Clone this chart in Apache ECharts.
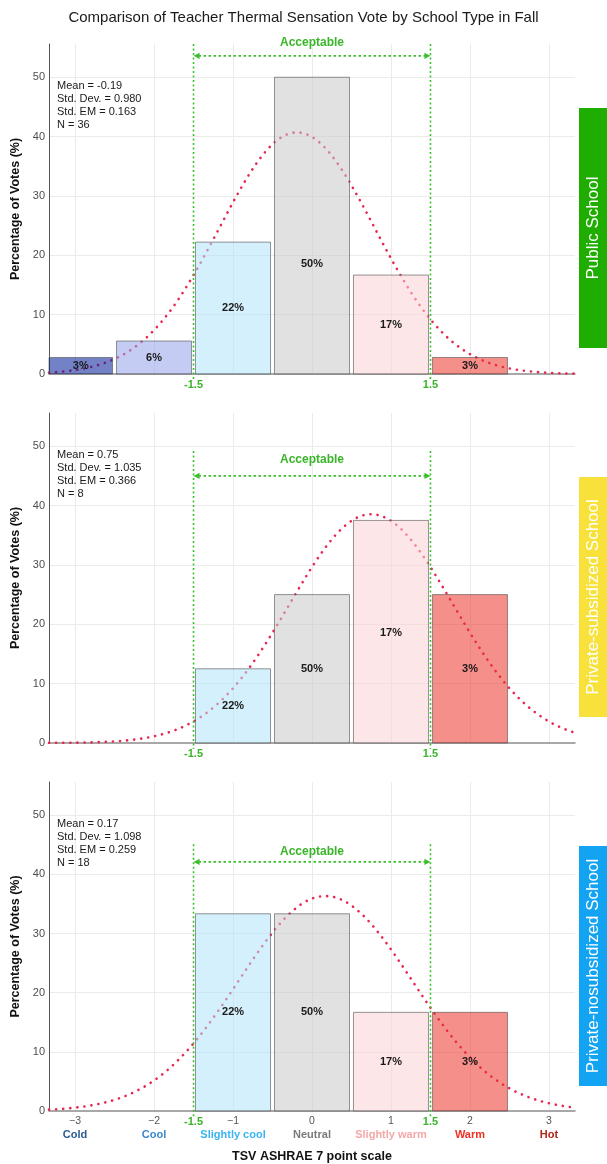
<!DOCTYPE html>
<html>
<head>
<meta charset="utf-8">
<title>Teacher Thermal Sensation Vote by School Type</title>
<script src="https://cdn.jsdelivr.net/npm/echarts@6/dist/echarts.min.js"></script>
<style>
  html, body { margin: 0; padding: 0; background: #ffffff; }
  #chart { width: 607px; height: 1164px; }
</style>
</head>
<body>
<div id="chart"></div>
<script>
// ---- Data -------------------------------------------------------------
// ASHRAE 7-point thermal sensation scale
const tsvPoints = [-3, -2, -1, 0, 1, 2, 3];
const tsvNames = ['Cold', 'Cool', 'Slightly cool', 'Neutral', 'Slightly warm', 'Warm', 'Hot'];
const schoolTypes = ['Public School', 'Private-subsidized School', 'Private-nosubsidized School'];

// Percentage of votes at each TSV point (-3 .. 3)
const publicPct       = [2.78, 5.56, 22.22, 50.0, 16.67, 2.78, 0];
const subsidizedPct   = [0, 0, 12.5, 25.0, 37.5, 25.0, 0];
const nosubsidizedPct = [0, 0, 33.33, 33.33, 16.67, 16.67, 0];

// Bar labels as printed on each panel
const publicLabels       = ['3%', '6%', '22%', '50%', '17%', '3%', ''];
const subsidizedLabels   = ['', '', '22%', '50%', '17%', '3%', ''];
const nosubsidizedLabels = ['', '', '22%', '50%', '17%', '3%', ''];

// Summary statistics per school type
const means   = [-0.19, 0.75, 0.17];
const stdDevs = [0.980, 1.035, 1.098];
const stdEMs  = [0.163, 0.366, 0.259];
const counts  = [36, 8, 18];

// Acceptable comfort band on the TSV scale
const acceptRange = [-1.5, 1.5];

// ---- Layout & style ---------------------------------------------------
const FONT = '"Liberation Sans", Arial, Helvetica, sans-serif';
const GREEN = '#3cbf2c';
const GREEN_TEXT = '#3ab52a';
const CURVE = '#e8264f';
const layout = {
  left: 49, right: 32, tops: [44, 413, 782], height: 330,
  xMin: -3.33, xMax: 3.33, yMax: 55.6
};
// heights (in % units) of the acceptable-band annotation per panel
const acceptLayout = [
  { top: 55.6, arrow: 53.6, label: 55.8 },
  { top: 49.2, arrow: 45.0, label: 47.7 },
  { top: 45.1, arrow: 42.1, label: 43.9 }
];
const stripColors = ['#20ad02', '#f8e13a', '#12a3f2'];
// translucent fills: the fitted curve shows faintly through the bars
const barFills = [
  'rgba(0,28,151,0.55)', 'rgba(150,162,235,0.55)', 'rgba(177,228,250,0.55)',
  'rgba(200,200,200,0.55)', 'rgba(251,210,213,0.55)', 'rgba(235,51,41,0.55)',
  'rgba(170,20,20,0.55)'
];
const nameColors = ['#2b5b95', '#3a88cc', '#3ab4f2', '#7a7a7a', '#f5a7a7', '#ee3124', '#b22418'];

const panels = [
  { pct: publicPct, labels: publicLabels },
  { pct: subsidizedPct, labels: subsidizedLabels },
  { pct: nosubsidizedPct, labels: nosubsidizedLabels }
];

// Fitted normal density (percent per one-point bin) from the panel's mean and SD
function normalCurve(mean, sd) {
  const pts = [];
  const steps = 333;
  for (let s = 0; s <= steps; s++) {
    const x = layout.xMin + (layout.xMax - layout.xMin) * s / steps;
    const z = (x - mean) / sd;
    pts.push([x, 100 * Math.exp(-0.5 * z * z) / (sd * Math.sqrt(2 * Math.PI))]);
  }
  return pts;
}

function fmtTick(v) {
  return v < 0 ? '\u2212' + (-v) : String(v);
}

const grids = [], xAxes = [], yAxes = [], series = [];

panels.forEach(function (p, i) {
  const isLast = i === panels.length - 1;
  grids.push({
    left: layout.left, right: layout.right, top: layout.tops[i], height: layout.height,
    containLabel: false
  });

  const rich = { n: { fontFamily: FONT, fontSize: 10.5, color: '#555555', lineHeight: 13 } };
  nameColors.forEach(function (c, k) {
    rich['c' + k] = { fontFamily: FONT, fontSize: 11, fontWeight: 'bold', color: c, lineHeight: 15 };
  });

  xAxes.push({
    type: 'value', gridIndex: i, min: layout.xMin, max: layout.xMax, splitNumber: 6,
    axisLine: { show: true, onZero: false, lineStyle: { color: '#8c8c8c', width: 1.5 } },
    axisTick: { show: false },
    splitLine: { show: true, showMinLine: false, showMaxLine: false, lineStyle: { color: '#ebebeb', width: 1 } },
    axisLabel: {
      show: isLast, margin: 3.5, showMinLabel: false, showMaxLabel: false,
      formatter: function (v) {
        if (Math.abs(v - Math.round(v)) > 1e-6) return '';
        const k = tsvPoints.indexOf(Math.round(v));
        if (k < 0) return '';
        return '{n|' + fmtTick(Math.round(v)) + '}\n{c' + k + '|' + tsvNames[k] + '}';
      },
      rich: rich
    },
    name: isLast ? 'TSV ASHRAE 7 point scale' : '',
    nameLocation: 'middle', nameGap: 39,
    nameTextStyle: { fontFamily: FONT, fontSize: 12.5, fontWeight: 'bold', color: '#111111' }
  });

  yAxes.push({
    type: 'value', gridIndex: i, min: 0, max: layout.yMax, interval: 10,
    axisLine: { show: true, onZero: false, lineStyle: { color: '#555555', width: 1 } },
    axisTick: { show: false },
    splitLine: { show: true, showMinLine: false, showMaxLine: false, lineStyle: { color: '#ebebeb', width: 1 } },
    axisLabel: {
      margin: 4, fontFamily: FONT, fontSize: 11, color: '#4d4d4d', showMaxLabel: false,
      formatter: function (v) { return v % 10 === 0 ? String(v) : ''; }
    },
    name: 'Percentage of Votes (%)', nameLocation: 'middle', nameGap: 25,
    nameTextStyle: { fontFamily: FONT, fontSize: 12.5, fontWeight: 'bold', color: '#111111' }
  });

  // fitted normal curve, drawn beneath the translucent bars
  series.push({
    type: 'line', xAxisIndex: i, yAxisIndex: i, z: 2,
    data: normalCurve(means[i], stdDevs[i]),
    showSymbol: false, silent: true, animation: false,
    lineStyle: { color: CURVE, width: 2.6, type: [0.1, 7], cap: 'round' }
  });

  // vote-share bars with their labels
  series.push({
    type: 'custom', xAxisIndex: i, yAxisIndex: i, z: 3, animation: false, silent: true,
    data: tsvPoints.map(function (x, k) { return [x, p.pct[k], k]; }),
    renderItem: function (params, api) {
      const x = api.value(0), h = api.value(1), k = api.value(2);
      if (!h) return null;
      const a = api.coord([x - 0.475, h]);
      const b = api.coord([x + 0.475, 0]);
      const rect = echarts.graphic.clipRectByRect(
        { x: a[0], y: a[1], width: b[0] - a[0], height: b[1] - a[1] },
        params.coordSys
      );
      if (!rect) return null;
      const ly = api.coord([x, Math.min(h / 2, 18.6)])[1];
      const label = p.labels[k];
      const children = [{
        type: 'rect', shape: rect,
        style: { fill: barFills[k], stroke: 'rgba(80,80,80,0.6)', lineWidth: 1 }
      }];
      if (label) {
        children.push({
          type: 'text', x: rect.x + rect.width / 2, y: ly,
          style: {
            text: label, fill: '#1a1a1a', font: 'bold 11px ' + FONT,
            align: 'center', verticalAlign: 'middle', textAlign: 'center', textVerticalAlign: 'middle'
          }
        });
      }
      return { type: 'group', children: children };
    }
  });

  // acceptable band, its limits and the summary statistics
  series.push({
    type: 'custom', xAxisIndex: i, yAxisIndex: i, z: 4, animation: false, silent: true, clip: false,
    data: [[0, 0]],
    renderItem: function (params, api) {
      const L = acceptLayout[i];
      const y0 = api.coord([0, 0])[1];
      const xa = api.coord([acceptRange[0], 0])[0];
      const xb = api.coord([acceptRange[1], 0])[0];
      const yTop = api.coord([0, L.top])[1];
      const yArrow = api.coord([0, L.arrow])[1];
      const yLabel = api.coord([0, L.label])[1];
      const g = [];
      [xa, xb].forEach(function (x) {
        g.push({ type: 'line', shape: { x1: x, y1: yTop, x2: x, y2: y0 + 6 },
          style: { stroke: GREEN, lineWidth: 1.6, lineDash: [2, 2.5] } });
      });
      g.push({ type: 'line', shape: { x1: xa + 5, y1: yArrow, x2: xb - 5, y2: yArrow },
        style: { stroke: GREEN, lineWidth: 1.8, lineDash: [2.5, 2.5] } });
      g.push({ type: 'polygon', shape: { points: [[xa, yArrow], [xa + 6, yArrow - 3.2], [xa + 6, yArrow + 3.2]] },
        style: { fill: GREEN } });
      g.push({ type: 'polygon', shape: { points: [[xb, yArrow], [xb - 6, yArrow - 3.2], [xb - 6, yArrow + 3.2]] },
        style: { fill: GREEN } });
      g.push({ type: 'text', x: (xa + xb) / 2, y: yLabel,
        style: { text: 'Acceptable', fill: GREEN_TEXT, font: 'bold 12px ' + FONT,
          align: 'center', verticalAlign: 'middle', textAlign: 'center', textVerticalAlign: 'middle' } });
      acceptRange.forEach(function (v, j) {
        g.push({ type: 'text', x: j === 0 ? xa : xb, y: y0 + 10.5,
          style: { text: String(v), fill: GREEN_TEXT, font: 'bold 11px ' + FONT,
            align: 'center', verticalAlign: 'middle', textAlign: 'center', textVerticalAlign: 'middle' } });
      });
      const stats = [
        'Mean = ' + means[i].toFixed(2),
        'Std. Dev. = ' + stdDevs[i].toFixed(3),
        'Std. EM = ' + stdEMs[i].toFixed(3),
        'N = ' + counts[i]
      ];
      const y50 = api.coord([0, 50])[1];
      const cs = params.coordSys;
      stats.forEach(function (s, k) {
        g.push({ type: 'text', x: cs.x + 8, y: y50 + 9 + k * 12.9,
          style: { text: s, fill: '#1a1a1a', font: '11px ' + FONT,
            align: 'left', verticalAlign: 'middle', textAlign: 'left', textVerticalAlign: 'middle' } });
      });
      return { type: 'group', children: g };
    }
  });
});

// side strips naming each school type
const graphics = [];
schoolTypes.forEach(function (name, i) {
  const top = layout.tops[i] + 64;
  graphics.push({
    type: 'rect', left: 579, top: top, shape: { width: 28, height: 240 },
    style: { fill: stripColors[i] }, silent: true
  });
  graphics.push({
    type: 'text', x: 593, y: top + 120, rotation: Math.PI / 2,
    style: { text: name, fill: '#ffffff', font: '17px ' + FONT,
      align: 'center', verticalAlign: 'middle', textAlign: 'center', textVerticalAlign: 'middle' },
    silent: true
  });
});

const chart = echarts.init(document.getElementById('chart'), null, { renderer: 'canvas' });
chart.setOption({
  animation: false,
  backgroundColor: '#ffffff',
  title: {
    text: 'Comparison of Teacher Thermal Sensation Vote by School Type in Fall',
    left: 'center', top: 5,
    textStyle: { fontFamily: FONT, fontSize: 15, fontWeight: 'normal', color: '#1a1a1a' }
  },
  grid: grids,
  xAxis: xAxes,
  yAxis: yAxes,
  series: series,
  graphic: graphics
});
</script>
</body>
</html>
